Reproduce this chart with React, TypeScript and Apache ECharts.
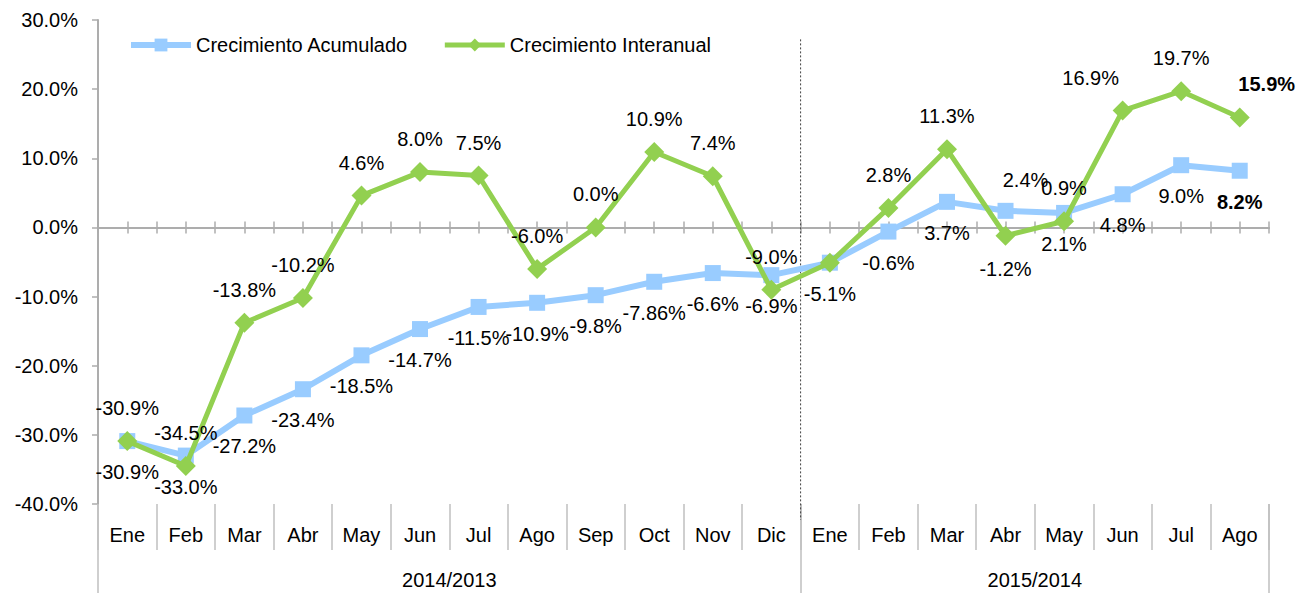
import React, { useEffect, useRef } from "react";
import * as echarts from "echarts";

const months = ["Ene", "Feb", "Mar", "Abr", "May", "Jun", "Jul", "Ago", "Sep", "Oct", "Nov", "Dic", "Ene", "Feb", "Mar", "Abr", "May", "Jun", "Jul", "Ago"];
const groups = ["2014/2013", "2015/2014"];
const groupCenters = [6, 16];
const groupBounds = [0, 12, 20];
const acumulado = [-30.9, -33.0, -27.2, -23.4, -18.5, -14.7, -11.5, -10.9, -9.8, -7.86, -6.6, -6.9, -5.1, -0.6, 3.7, 2.4, 2.1, 4.8, 9.0, 8.2];
const interanual = [-30.9, -34.5, -13.8, -10.2, 4.6, 8.0, 7.5, -6.0, 0.0, 10.9, 7.4, -9.0, -5.1, 2.8, 11.3, -1.2, 0.9, 16.9, 19.7, 15.9];
const yTicks = { min: -40, max: 30, interval: 10 };
const dividerLine = [[12, 27.2], [12, -42.3]];

const FONT = "Liberation Sans";
const BLUE = "#99CCFF";
const GREEN = "#92D050";
const AXIS = "#ADADAD";

const fmt = (v: number) => {
  const s = Math.abs(v * 10 - Math.round(v * 10)) > 1e-6 ? v.toFixed(2) : v.toFixed(1);
  return s + "%";
};

const blueOverrides: Record<number, any> = {
  15: { position: "top", offset: [20, 0] },
  19: { fontWeight: "bold" },
};
const greenOverrides: Record<number, any> = {
  12: { show: false },
  15: { position: "bottom" },
  17: { offset: [-32, 0] },
  19: { offset: [27, 0], fontWeight: "bold" },
};

export default function App() {
  const ref = useRef<HTMLDivElement>(null);
  useEffect(() => {
    document.body.style.margin = "0";
    if (!ref.current) return;
    const chart = echarts.init(ref.current, null, { renderer: "svg" });
    const labelBase = {
      show: true,
      fontSize: 20,
      fontFamily: FONT,
      color: "#000",
      distance: 13,
      formatter: (p: any) => fmt(p.value),
    };
    const zeroAxis = (inside: boolean) => ({
      type: "value",
      min: 0,
      max: 20,
      interval: 0.5,
      position: "bottom",
      axisLine: { show: true, onZero: true, onZeroAxisIndex: 0, lineStyle: { color: AXIS, width: 2 } },
      axisTick: { show: true, inside, length: 6, lineStyle: { color: AXIS, width: 1.5 } },
      axisLabel: { show: false },
      splitLine: { show: false },
    });
    chart.setOption({
      animation: false,
      textStyle: { fontFamily: FONT },
      grid: { left: 98, right: 29, top: 20, bottom: 89, containLabel: false },
      legend: {
        data: [
          { name: "Crecimiento Acumulado", lineStyle: { width: 6, color: BLUE } },
          { name: "Crecimiento Interanual", lineStyle: { width: 5, color: GREEN } },
        ],
        left: 128,
        top: 35,
        padding: 0,
        itemWidth: 60,
        itemHeight: 16,
        itemGap: 34,
        textStyle: { fontSize: 20, fontFamily: FONT, color: "#000" },
      },
      xAxis: [
        {
          type: "category",
          data: months,
          position: "bottom",
          boundaryGap: true,
          axisLine: { show: false, onZero: false },
          axisTick: { show: true, interval: 0, length: 46, lineStyle: { color: "#BFBFBF", width: 1.5 } },
          axisLabel: { interval: 0, margin: 21, fontSize: 20, fontFamily: FONT, color: "#000" },
          splitLine: { show: false },
        },
        {
          type: "value",
          min: 0,
          max: 20,
          position: "bottom",
          axisLine: { show: false, onZero: false },
          axisTick: { show: true, customValues: groupBounds, length: 89, lineStyle: { color: "#BFBFBF", width: 1.5 } },
          axisLabel: {
            customValues: groupCenters,
            margin: 66,
            fontSize: 20,
            fontFamily: FONT,
            color: "#000",
            formatter: (v: number) => groups[groupCenters.indexOf(v)] ?? "",
          },
          splitLine: { show: false },
        },
        zeroAxis(false),
        zeroAxis(true),
      ],
      yAxis: {
        type: "value",
        min: yTicks.min,
        max: yTicks.max,
        interval: yTicks.interval,
        axisLine: { show: true, onZero: false, lineStyle: { color: AXIS, width: 2 } },
        axisTick: { show: true, length: 6, lineStyle: { color: AXIS, width: 1.5 } },
        axisLabel: {
          margin: 20,
          fontSize: 20,
          fontFamily: FONT,
          color: "#000",
          formatter: (v: number) => v.toFixed(1) + "%",
        },
        splitLine: { show: false },
      },
      series: [
        {
          name: "Crecimiento Acumulado",
          type: "line",
          xAxisIndex: 0,
          data: acumulado.map((v, i) => ({ value: v, label: blueOverrides[i] })),
          symbol: "rect",
          symbolSize: 16,
          itemStyle: { color: BLUE },
          lineStyle: { color: BLUE, width: 6 },
          label: { ...labelBase, position: "bottom" },
          z: 3,
        },
        {
          name: "Crecimiento Interanual",
          type: "line",
          xAxisIndex: 0,
          data: interanual.map((v, i) => ({ value: v, label: greenOverrides[i] })),
          symbol: "diamond",
          symbolSize: [20, 20],
          itemStyle: { color: GREEN },
          lineStyle: { color: GREEN, width: 5 },
          label: { ...labelBase, position: "top" },
          z: 4,
        },
        {
          name: "divider",
          type: "line",
          xAxisIndex: 1,
          data: dividerLine,
          symbol: "none",
          clip: false,
          silent: true,
          lineStyle: { color: "#404040", width: 1, type: [2, 2] },
          z: 1,
        },
      ],
    });
    return () => chart.dispose();
  }, []);
  return <div ref={ref} style={{ width: 1298, height: 593 }} />;
}
